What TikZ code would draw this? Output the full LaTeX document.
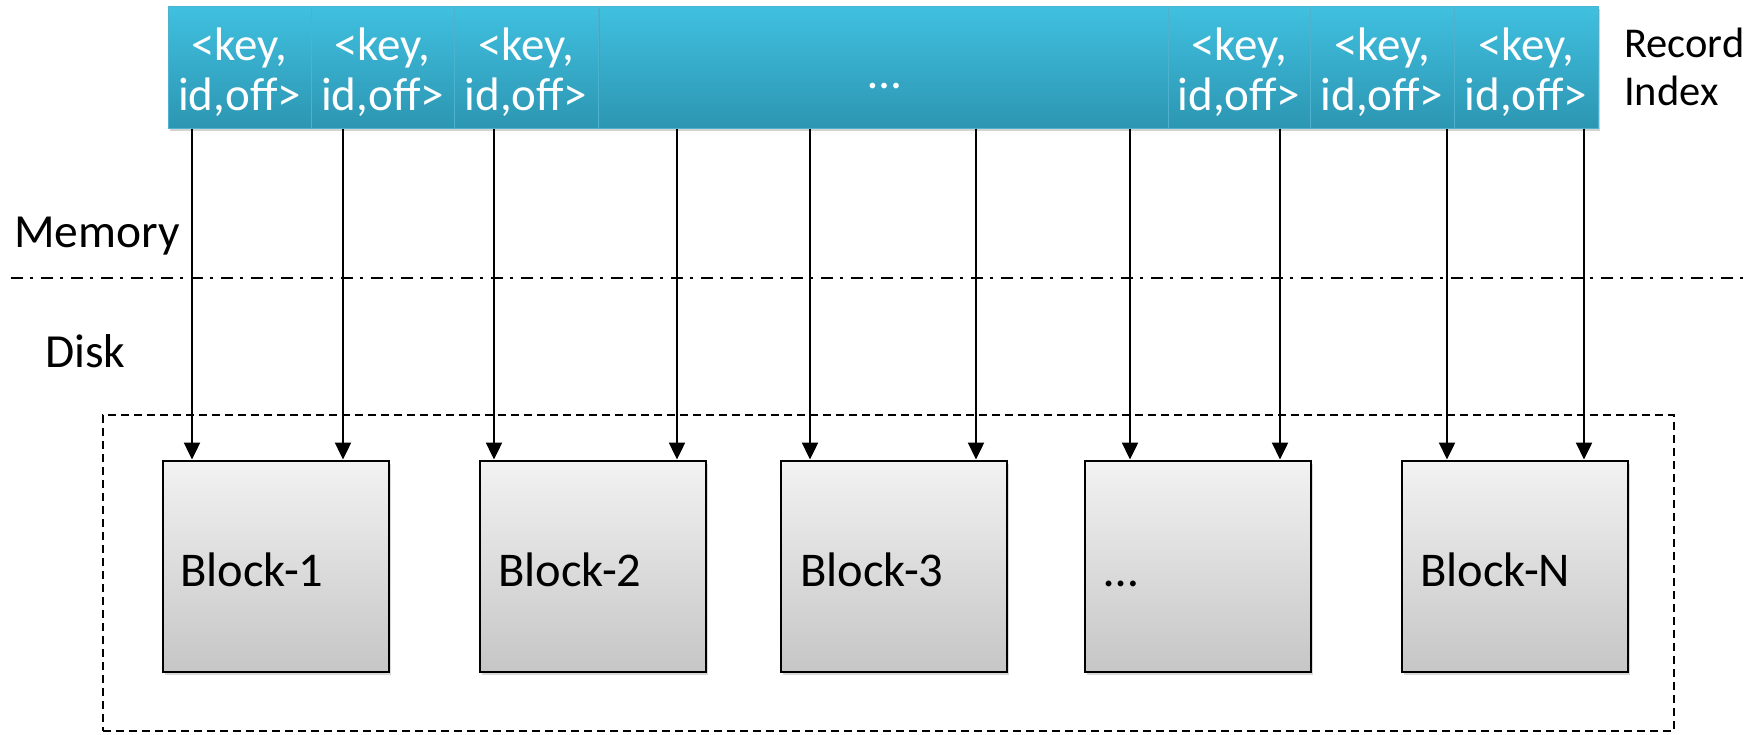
\documentclass[tikz,border=0pt]{standalone}
\usepackage{fontspec}
\setmainfont{Carlito}
\usetikzlibrary{arrows.meta,shadows}
\definecolor{celltop}{RGB}{64,192,224}
\definecolor{cellbot}{RGB}{44,150,178}
\definecolor{celledge}{RGB}{78,178,206}
\definecolor{blktop}{RGB}{242,242,242}
\definecolor{blkbot}{RGB}{198,198,198}
\newcommand\mytwoline[2]{\vtop{\halign{\hfil##\hfil\cr#1\cr#2\cr}}}
\begin{document}
\begin{tikzpicture}[x=1pt,y=-1pt,
  cell/.style={rectangle, inner sep=0pt, top color=celltop, bottom color=cellbot,
    draw=celledge, line width=1pt, minimum height=122pt,
    drop shadow={shadow xshift=1.5pt, shadow yshift=-2.5pt, opacity=0.35}},
  celltxt/.style={anchor=base, inner sep=0pt, text=white, font=\fontsize{47}{50}\selectfont},
  blockbox/.style={rectangle, inner sep=0pt, draw=black, line width=2pt,
    top color=blktop, bottom color=blkbot, minimum width=226pt, minimum height=211pt,
    drop shadow={shadow xshift=2pt, shadow yshift=-3pt, opacity=0.3}},
  blocktxt/.style={anchor=base west, inner sep=0pt, font=\fontsize{48.5}{52}\selectfont},
  label/.style={anchor=base west, inner sep=0pt, font=\fontsize{47.5}{52}\selectfont},
  arr/.style={line width=2.4pt, -{Triangle[length=17pt,width=16pt]}},
  dashdotline/.style={line width=2.5pt, dash pattern=on 12pt off 7pt on 3pt off 8pt},
  diskframe/.style={draw=black, line width=1.5pt, dash pattern=on 8pt off 5pt, rectangle, inner sep=0pt}
]
\useasboundingbox (0,0) rectangle (1763,734);

% memory / disk separator and disk frame
\coordinate (dl) at (11,278);
\coordinate (dr) at (1750,278);
\draw[dashdotline] (dl) -- (dr);
\node[diskframe, minimum width=1571pt, minimum height=316pt] (diskbox) at (888.5,573) {};

\node[label] (mem) at (14,247) {Memory};
\node[label] (disk) at (45,367) {Disk};
\node[anchor=base west, inner sep=0pt, font=\fontsize{42.5}{48}\selectfont] (rec) at (1624,57)
  {\vtop{\hbox{Record}\hbox{Index}}};

% blocks
\node[blockbox] (b1) at (275.5,566) {};
\node[blockbox] (b2) at (593,566) {};
\node[blockbox] (b3) at (893.5,566) {};
\node[blockbox] (b4) at (1197.5,566) {};
\node[blockbox] (b5) at (1515,566) {};
\node[blocktxt] (l1) at (180,586) {Block-1};
\node[blocktxt] (l2) at (498,586) {Block-2};
\node[blocktxt] (l3) at (800,586) {Block-3};
\node[blocktxt] (l4) at (1104,586) {…};
\node[blocktxt] (l5) at (1420,586) {Block-N};

% record index cells
\node[cell, minimum width=570pt] (c4) at (883,67) {};
\node[cell, minimum width=143pt] (c1) at (239.5,67) {};
\node[cell, minimum width=143pt] (c2) at (382.5,67) {};
\node[cell, minimum width=144pt] (c3) at (526,67) {};
\node[cell, minimum width=142pt] (c5) at (1239,67) {};
\node[cell, minimum width=144pt] (c6) at (1382,67) {};
\node[cell, minimum width=144pt] (c7) at (1526,67) {};
\node[celltxt] (t1) at (239.5,60) {\mytwoline{<key,}{id,off>}};
\node[celltxt] (t2) at (382.5,60) {\mytwoline{<key,}{id,off>}};
\node[celltxt] (t3) at (526,60) {\mytwoline{<key,}{id,off>}};
\node[celltxt] (t4) at (885,88) {…};
\node[celltxt] (t5) at (1239,60) {\mytwoline{<key,}{id,off>}};
\node[celltxt] (t6) at (1382,60) {\mytwoline{<key,}{id,off>}};
\node[celltxt] (t7) at (1526,60) {\mytwoline{<key,}{id,off>}};

% arrows
\coordinate (k1) at (192,0);
\coordinate (k2) at (343,0);
\coordinate (k3) at (494,0);
\coordinate (k4) at (677,0);
\coordinate (k5) at (810,0);
\coordinate (k6) at (976,0);
\coordinate (k7) at (1130,0);
\coordinate (k8) at (1280,0);
\coordinate (k9) at (1447,0);
\coordinate (k10) at (1584,0);
\draw[arr] (c1.south -| k1) -- (b1.north -| k1);
\draw[arr] (c2.south -| k2) -- (b1.north -| k2);
\draw[arr] (c3.south -| k3) -- (b2.north -| k3);
\draw[arr] (c4.south -| k4) -- (b2.north -| k4);
\draw[arr] (c4.south -| k5) -- (b3.north -| k5);
\draw[arr] (c4.south -| k6) -- (b3.north -| k6);
\draw[arr] (c4.south -| k7) -- (b4.north -| k7);
\draw[arr] (c5.south -| k8) -- (b4.north -| k8);
\draw[arr] (c6.south -| k9) -- (b5.north -| k9);
\draw[arr] (c7.south -| k10) -- (b5.north -| k10);
\end{tikzpicture}
\end{document}
